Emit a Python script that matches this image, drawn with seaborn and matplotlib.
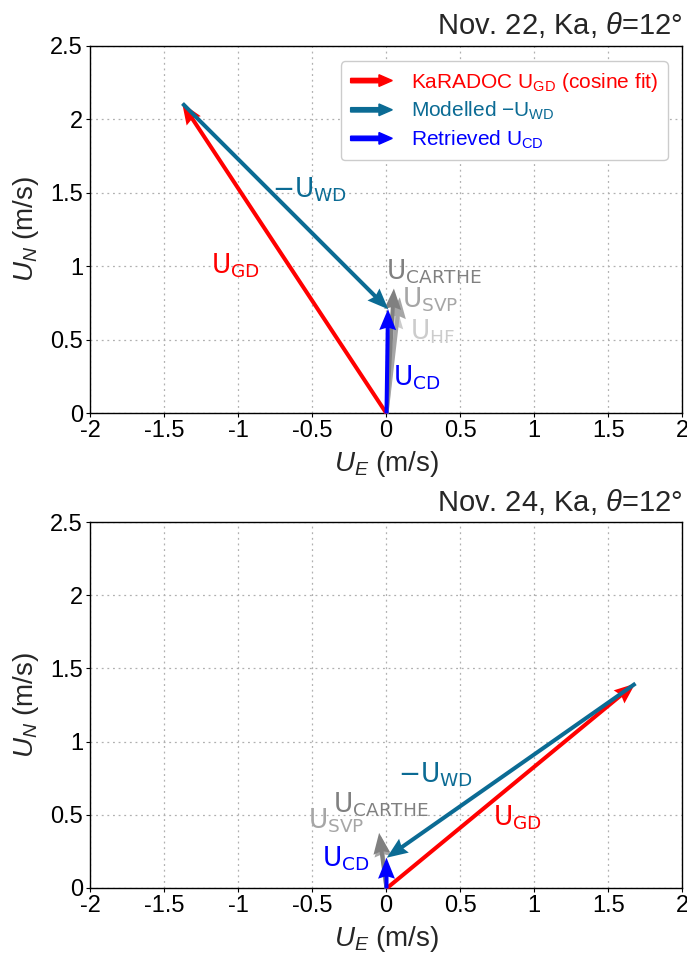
import numpy as np
import matplotlib
matplotlib.use("Agg")
import matplotlib.pyplot as plt
import seaborn as sns
from matplotlib.patches import FancyArrow
from matplotlib.legend_handler import HandlerPatch

# ---------------- data ----------------
titles = ["Nov. 22, Ka, $\\theta$=12°", "Nov. 24, Ka, $\\theta$=12°"]
# vectors (east, north) in m/s
ugd = [(-1.38, 2.11), (1.68, 1.40)]          # KaRADOC U_GD
ucd = [(0.01, 0.71), (0.00, 0.21)]           # Retrieved U_CD
ucarthe = [(0.05, 0.85), (-0.05, 0.38)]
usvp = [(0.09, 0.79), (-0.04, 0.36)]
uhf = [(0.07, 0.72), None]
xticks = [-2, -1.5, -1, -0.5, 0, 0.5, 1, 1.5, 2]
yticks = [0, 0.5, 1, 1.5, 2, 2.5]
xticklabels = ["-2", "-1.5", "-1", "-0.5", "0", "0.5", "1", "1.5", "2"]
yticklabels = ["0", "0.5", "1", "1.5", "2", "2.5"]
# label anchor positions (data coords)
lab_gd = [(-1.18, 1.0), (0.72, 0.48)]
lab_wd = [(-0.77, 1.52), (0.08, 0.77)]
lab_carthe = [(0.0, 0.96), (-0.36, 0.57)]
lab_svp = [(0.11, 0.77), (-0.53, 0.46)]
lab_hf = [(0.16, 0.55), None]
lab_cd = [(0.05, 0.24), (-0.43, 0.20)]

RED = "#ff0000"
TEAL = "#0b6b94"
BLUE = "#0000ff"
G1 = "#808080"
G2 = "#a6a6a6"
G3 = "#cccccc"

sns.set_theme(style="ticks")
plt.rcParams["font.family"] = ["Liberation Sans", "DejaVu Sans"]
plt.rcParams["mathtext.fontset"] = "custom"
plt.rcParams["mathtext.rm"] = "Liberation Sans"
plt.rcParams["mathtext.it"] = "Liberation Sans:italic"
plt.rcParams["mathtext.sf"] = "DejaVu Sans"
plt.rcParams["axes.unicode_minus"] = False

fig = plt.figure(figsize=(6.87, 9.55), dpi=100)
axes = [fig.add_axes([0.131, 0.5675, 0.862, 0.3848]),
        fig.add_axes([0.131, 0.0702, 0.862, 0.3832])]

qkw = dict(angles="xy", scale_units="xy", scale=1, width=0.0068,
           headwidth=4.2, headlength=5.2, headaxislength=4.7)


def arrow(ax, x0, y0, v, color, z, **kw):
    d = dict(qkw)
    d.update(kw)
    return ax.quiver([x0], [y0], [v[0]], [v[1]], color=color, zorder=z, **d)


for i, ax in enumerate(axes):
    ax.set_xlim(-2, 2)
    ax.set_ylim(0, 2.5)
    ax.set_xticks(xticks)
    ax.set_xticklabels(xticklabels)
    ax.set_yticks(yticks)
    ax.set_yticklabels(yticklabels)
    ax.grid(True, linestyle=(0, (1.5, 3)), color="#b0b0b0", linewidth=0.9)
    ax.set_axisbelow(True)
    for s in ax.spines.values():
        s.set_color("black")
        s.set_linewidth(1.0)
    ax.tick_params(labelsize=17, length=3, width=0.8, colors="black", pad=2)
    ax.set_xlabel("$U_E$ (m/s)", fontsize=20, labelpad=5)
    ax.set_ylabel("$U_N$ (m/s)", fontsize=20, labelpad=7)
    ax.set_title(titles[i], loc="right", fontsize=21, pad=8)

    # grey in-situ arrows
    if uhf[i] is not None:
        arrow(ax, 0, 0, uhf[i], G3, 3)
    arrow(ax, 0, 0, usvp[i], G2, 3)
    arrow(ax, 0, 0, ucarthe[i], G1, 3)
    # main arrows
    arrow(ax, 0, 0, ugd[i], RED, 4)
    wd = (ucd[i][0] - ugd[i][0], ucd[i][1] - ugd[i][1])
    arrow(ax, ugd[i][0], ugd[i][1], wd, TEAL, 5)
    arrow(ax, 0, 0, ucd[i], BLUE, 6)

    fs = 19
    ax.text(*lab_gd[i], r"$\mathsf{U_{GD}}$", color=RED, fontsize=fs, va="center", ha="left")
    ax.text(*lab_wd[i], r"$\mathsf{-U_{WD}}$", color=TEAL, fontsize=fs, va="center", ha="left")
    ax.text(*lab_carthe[i], r"$\mathsf{U_{CARTHE}}$", color=G1, fontsize=fs, va="center", ha="left")
    ax.text(*lab_svp[i], r"$\mathsf{U_{SVP}}$", color=G2, fontsize=fs, va="center", ha="left")
    if lab_hf[i] is not None:
        ax.text(*lab_hf[i], r"$\mathsf{U_{HF}}$", color=G3, fontsize=fs, va="center", ha="left")
    ax.text(*lab_cd[i], r"$\mathsf{U_{CD}}$", color=BLUE, fontsize=fs, va="center", ha="left", zorder=7)


def make_arrow(legend, orig_handle, xdescent, ydescent, width, height, fontsize):
    return FancyArrow(0, 0.5 * height, width, 0, length_includes_head=True,
                      width=height * 0.3, head_width=height * 0.8,
                      head_length=width * 0.32)


leg_labels = [r"KaRADOC U$_{\mathrm{GD}}$ (cosine fit)",
              r"Modelled $-$U$_{\mathrm{WD}}$",
              r"Retrieved U$_{\mathrm{CD}}$"]
leg_colors = [RED, TEAL, BLUE]
handles = [FancyArrow(0, 0, 1, 0, color=c) for c in leg_colors]
leg = axes[0].legend(handles, leg_labels, loc="upper right", fontsize=15,
                     handler_map={FancyArrow: HandlerPatch(patch_func=make_arrow)},
                     handlelength=2.0, handletextpad=0.9, borderpad=0.45,
                     labelspacing=0.3, framealpha=1, edgecolor="#cccccc",
                     bbox_to_anchor=(0.993, 0.985))
for t, c in zip(leg.get_texts(), leg_colors):
    t.set_color(c)

fig.savefig("out.png", dpi=100)
